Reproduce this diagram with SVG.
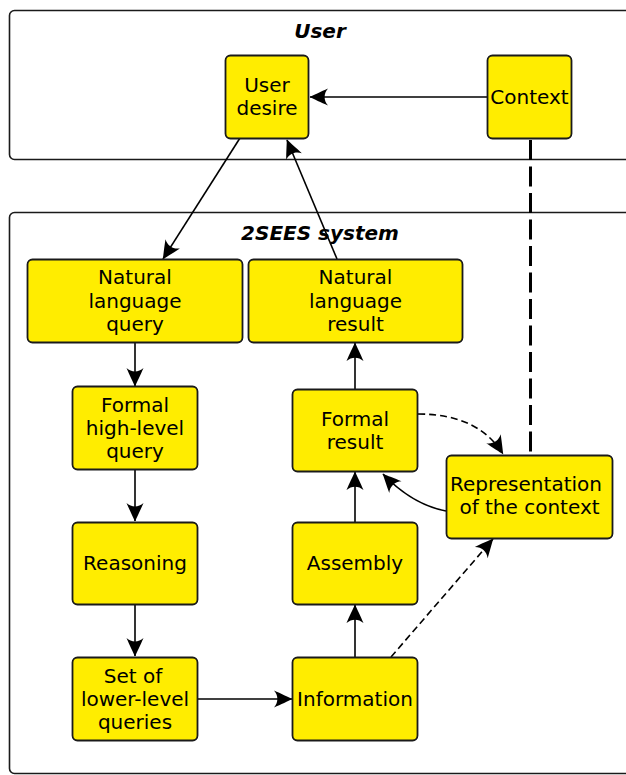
<svg xmlns="http://www.w3.org/2000/svg" width="626" height="775" viewBox="0 0 626 775">
<style>
.container{fill:#ffffff;stroke:#1a1a1a;stroke-width:1.6}
.box{fill:#ffed00;stroke:#1a1a1a;stroke-width:1.8}
.title{font-family:"DejaVu Sans",sans-serif;font-size:20px;font-weight:bold;font-style:italic;fill:#000;text-anchor:middle}
.lbl{font-family:"DejaVu Sans",sans-serif;font-size:20px;fill:#000;text-anchor:middle}
.conn{fill:none;stroke:#000;stroke-width:1.6}
.dash{stroke-dasharray:7 4}
.thick{fill:none;stroke:#000;stroke-width:3;stroke-dasharray:20 6.5}
</style>
<defs>
<marker id="arr" markerUnits="userSpaceOnUse" viewBox="-19 -10 20 20" refX="0" refY="0" markerWidth="20" markerHeight="20" orient="auto" overflow="visible">
<path d="M0.5,0 C-4,-2 -11,-5.5 -18,-8.5 C-13.5,-3.5 -13.5,3.5 -18,8.5 C-11,5.5 -4,2 0.5,0 Z" fill="#000"/>
</marker>
</defs>

<g id="user-container">
<rect class="container" x="9.5" y="10.5" width="640" height="149" rx="5"/>
<text class="title" x="320" y="38">User</text>
</g>
<g id="system-container">
<rect class="container" x="9.5" y="212.5" width="640" height="561" rx="5"/>
<text class="title" x="320" y="240">2SEES system</text>
</g>

<g id="connectors">
<line class="conn" x1="488" y1="97" x2="310" y2="97" marker-end="url(#arr)"/>
<line class="conn" x1="240" y1="138" x2="163" y2="259" marker-end="url(#arr)"/>
<line class="conn" x1="337" y1="259" x2="287" y2="140" marker-end="url(#arr)"/>
<line class="thick" x1="530.5" y1="140" x2="530.5" y2="455"/>
<line class="conn" x1="135" y1="343" x2="135" y2="386" marker-end="url(#arr)"/>
<line class="conn" x1="135" y1="469" x2="135" y2="521" marker-end="url(#arr)"/>
<line class="conn" x1="135" y1="605" x2="135" y2="656" marker-end="url(#arr)"/>
<line class="conn" x1="198" y1="699" x2="292" y2="699" marker-end="url(#arr)"/>
<line class="conn" x1="355" y1="657" x2="355" y2="605" marker-end="url(#arr)"/>
<line class="conn" x1="355" y1="522" x2="355" y2="472" marker-end="url(#arr)"/>
<line class="conn" x1="355" y1="389" x2="355" y2="343" marker-end="url(#arr)"/>
<path class="conn dash" d="M418,414 C462,414 488,430 503,454" marker-end="url(#arr)"/>
<path class="conn" d="M446,511 C425,507 405,497 383,474" marker-end="url(#arr)"/>
<line class="conn dash" x1="391" y1="657" x2="493" y2="539" marker-end="url(#arr)"/>
</g>

<g id="user-desire">
<rect class="box" x="225.5" y="55.5" width="83" height="83" rx="5"/>
<text class="lbl" x="267" y="92">User</text>
<text class="lbl" x="267" y="115">desire</text>
</g>
<g id="context">
<rect class="box" x="487.5" y="55.5" width="84" height="83" rx="5"/>
<text class="lbl" x="529.5" y="104">Context</text>
</g>
<g id="nl-query">
<rect class="box" x="27.5" y="259.5" width="215" height="83" rx="5"/>
<text class="lbl" x="135" y="284">Natural</text>
<text class="lbl" x="135" y="308">language</text>
<text class="lbl" x="135" y="331">query</text>
</g>
<g id="nl-result">
<rect class="box" x="248.5" y="259.5" width="214" height="83" rx="5"/>
<text class="lbl" x="355.5" y="284">Natural</text>
<text class="lbl" x="355.5" y="308">language</text>
<text class="lbl" x="355.5" y="331">result</text>
</g>
<g id="formal-high-level-query">
<rect class="box" x="72.5" y="386.5" width="125" height="83" rx="5"/>
<text class="lbl" x="135" y="412">Formal</text>
<text class="lbl" x="135" y="435">high-level</text>
<text class="lbl" x="135" y="458">query</text>
</g>
<g id="formal-result">
<rect class="box" x="292.5" y="389.5" width="125" height="82" rx="5"/>
<text class="lbl" x="355" y="426">Formal</text>
<text class="lbl" x="355" y="449">result</text>
</g>
<g id="representation">
<rect class="box" x="446.5" y="455.5" width="166" height="83" rx="5"/>
<text class="lbl" x="526" y="491" textLength="152" lengthAdjust="spacingAndGlyphs">Representation</text>
<text class="lbl" x="529.5" y="514">of the context</text>
</g>
<g id="reasoning">
<rect class="box" x="72.5" y="522.5" width="125" height="82" rx="5"/>
<text class="lbl" x="135" y="570">Reasoning</text>
</g>
<g id="assembly">
<rect class="box" x="292.5" y="522.5" width="125" height="82" rx="5"/>
<text class="lbl" x="355" y="570">Assembly</text>
</g>
<g id="set-of-queries">
<rect class="box" x="72.5" y="657.5" width="125" height="83" rx="5"/>
<text class="lbl" x="133" y="683">Set of</text>
<text class="lbl" x="135" y="706">lower-level</text>
<text class="lbl" x="135" y="729">queries</text>
</g>
<g id="information">
<rect class="box" x="292.5" y="657.5" width="125" height="83" rx="5"/>
<text class="lbl" x="355" y="706">Information</text>
</g>
</svg>
